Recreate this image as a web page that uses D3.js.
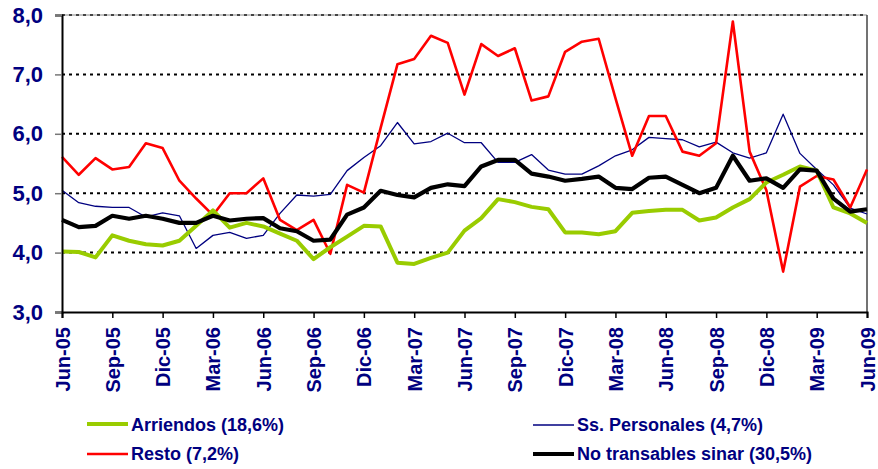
<!DOCTYPE html>
<html>
<head>
<meta charset="utf-8">
<script src="https://cdn.jsdelivr.net/npm/d3@7"></script>
<style>
html,body{margin:0;padding:0;background:#fff;}
svg{display:block;}
text{font-family:"Liberation Sans",Arial,sans-serif;font-weight:bold;fill:#000080;}
</style>
</head>
<body>
<svg id="chart" width="878" height="469"></svg>
<script>
const months = ["Jun","Jul","Ago","Sep","Oct","Nov","Dic","Ene","Feb","Mar","Abr","May"];
const startYear = 5;
const nPoints = 49;
const categories = d3.range(nPoints).map(i => {
  const m = i % 12, y = startYear + Math.floor((i + 5) / 12);
  return months[m] + "-" + String(y).padStart(2, "0");
});
const tickLabels = ["Jun-05","Sep-05","Dic-05","Mar-06","Jun-06","Sep-06","Dic-06","Mar-07","Jun-07","Sep-07","Dic-07","Mar-08","Jun-08","Sep-08","Dic-08","Mar-09","Jun-09"];
const yTicks = [3,4,5,6,7,8];

const arriendos = [4.02,4.01,3.92,4.29,4.20,4.14,4.12,4.20,4.45,4.71,4.42,4.50,4.44,4.32,4.20,3.89,4.09,4.27,4.45,4.44,3.83,3.81,3.91,4.00,4.37,4.58,4.90,4.85,4.77,4.73,4.34,4.34,4.31,4.36,4.67,4.70,4.72,4.72,4.54,4.59,4.76,4.90,5.18,5.31,5.45,5.38,4.76,4.66,4.50];
const ssPersonales = [5.05,4.84,4.78,4.76,4.76,4.60,4.67,4.62,4.07,4.29,4.34,4.24,4.29,4.66,4.97,4.95,4.98,5.38,5.60,5.80,6.19,5.83,5.87,6.01,5.85,5.85,5.52,5.52,5.65,5.39,5.32,5.32,5.46,5.63,5.73,5.94,5.92,5.90,5.78,5.86,5.68,5.59,5.68,6.33,5.67,5.40,5.14,4.75,4.65];
const resto = [5.61,5.31,5.59,5.40,5.44,5.84,5.76,5.21,4.91,4.63,5.00,5.00,5.25,4.55,4.38,4.55,3.98,5.14,5.01,6.10,7.17,7.26,7.65,7.53,6.66,7.51,7.31,7.44,6.56,6.63,7.38,7.55,7.60,6.60,5.63,6.30,6.30,5.70,5.63,5.84,7.89,5.70,5.05,3.68,5.11,5.29,5.23,4.76,5.40];
const noTransables = [4.55,4.43,4.45,4.62,4.57,4.62,4.57,4.50,4.50,4.62,4.54,4.57,4.58,4.41,4.36,4.20,4.22,4.64,4.76,5.04,4.97,4.93,5.09,5.15,5.12,5.45,5.56,5.56,5.33,5.28,5.21,5.24,5.28,5.09,5.07,5.26,5.28,5.14,5.00,5.09,5.63,5.21,5.25,5.09,5.40,5.38,4.91,4.69,4.73];

const seriesNames = ["Arriendos (18,6%)","Ss. Personales (4,7%)","Resto (7,2%)","No transables sinar (30,5%)"];
const seriesColors = ["#99cc00","#000080","#ff0000","#000000"];
const seriesWidths = [4,1.3,2.6,4.2];
const seriesData = [arriendos, ssPersonales, resto, noTransables];

const svg = d3.select("#chart");
const margin = {left: 62, right: 11, top: 15, bottom: 157};
const W = 878, H = 469;
const x = d3.scalePoint().domain(categories).range([margin.left, W - margin.right]);
const y = d3.scaleLinear().domain([3, 8]).range([H - margin.bottom, margin.top]);

// gridlines
svg.append("g").selectAll("line").data(yTicks.filter(t => t > 3)).join("line")
  .attr("x1", margin.left).attr("x2", W - margin.right)
  .attr("y1", d => y(d)).attr("y2", d => y(d))
  .attr("stroke", "#000").attr("stroke-width", 2).attr("stroke-dasharray", "3,4");

// top & right border
svg.append("line").attr("x1", margin.left).attr("x2", W - margin.right)
  .attr("y1", y(8)).attr("y2", y(8)).attr("stroke", "#888").attr("stroke-width", 1);
svg.append("line").attr("x1", W - margin.right).attr("x2", W - margin.right)
  .attr("y1", y(8)).attr("y2", y(3)).attr("stroke", "#444").attr("stroke-width", 1.5);

// series
const line = d3.line().x((d, i) => x(categories[i])).y(d => y(d));
const drawOrder = [1, 2, 0, 3];
drawOrder.forEach(k => {
  svg.append("path").datum(seriesData[k])
    .attr("fill", "none").attr("stroke", seriesColors[k])
    .attr("stroke-width", seriesWidths[k]).attr("stroke-linejoin", "round")
    .attr("d", line);
});

// y axis
const yAxis = svg.append("g").attr("transform", `translate(${margin.left},0)`)
  .call(d3.axisLeft(y).tickValues(yTicks).tickSize(7).tickPadding(12)
    .tickFormat(d => d3.format(".1f")(d).replace(".", ",")));
yAxis.select(".domain").attr("stroke", "#000").attr("stroke-width", 2);
yAxis.selectAll(".tick line").attr("stroke", "#777").attr("stroke-width", 1.5);
yAxis.selectAll(".tick text").attr("font-size", 22).attr("fill", "#000080")
  .attr("font-family", '"Liberation Sans",Arial,sans-serif').attr("font-weight", "bold");

// x axis
const xAxis = svg.append("g").attr("transform", `translate(0,${y(3)})`)
  .call(d3.axisBottom(x).tickValues(tickLabels).tickSize(6).tickPadding(0));
xAxis.select(".domain").attr("stroke", "#000").attr("stroke-width", 2);
xAxis.selectAll(".tick line").attr("stroke", "#000").attr("stroke-width", 1.5);
xAxis.selectAll(".tick text")
  .attr("font-size", 20).attr("fill", "#000080")
  .attr("font-family", '"Liberation Sans",Arial,sans-serif').attr("font-weight", "bold")
  .attr("text-anchor", "end").attr("dy", null).attr("y", 0)
  .attr("transform", "translate(7,15) rotate(-90)");

// legend
const legendItems = [
  {k: 0, lx: 87, ly: 424, tx: 131, ty: 431},
  {k: 1, lx: 533, ly: 425, tx: 577, ty: 431},
  {k: 2, lx: 87, ly: 454, tx: 131, ty: 460},
  {k: 3, lx: 533, ly: 454, tx: 577, ty: 460}
];
const lg = svg.append("g");
legendItems.forEach(it => {
  lg.append("line").attr("x1", it.lx).attr("x2", it.lx + 41)
    .attr("y1", it.ly).attr("y2", it.ly)
    .attr("stroke", seriesColors[it.k]).attr("stroke-width", Math.max(seriesWidths[it.k], 1.5));
  lg.append("text").attr("x", it.tx).attr("y", it.ty)
    .attr("font-size", 18).text(seriesNames[it.k]);
});
</script>
</body>
</html>
